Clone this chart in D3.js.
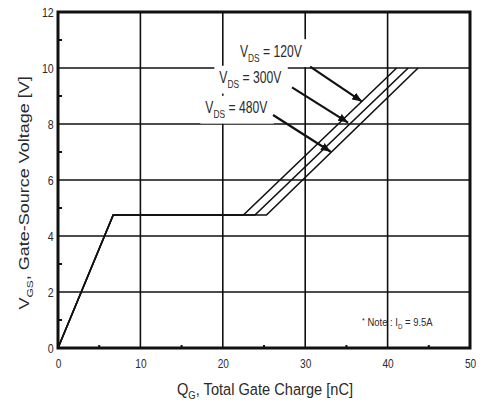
<!DOCTYPE html>
<html>
<head>
<meta charset="utf-8">
<script src="https://cdn.jsdelivr.net/npm/d3@7"></script>
<style>
  body { margin: 0; background: #fff; }
  text { font-family: Arial, "Liberation Sans", sans-serif; fill: #2a2a2a; }
</style>
</head>
<body>
<div id="chart"></div>
<script>
// data
const xTicks = [0, 10, 20, 30, 40, 50];
const yTicks = [0, 2, 4, 6, 8, 10, 12];
const xGrid = [10, 20, 30, 40];
const yGrid = [2, 4, 6, 8, 10];
const xMinor = [5, 15, 25, 35, 45];
const yMinor = [1, 3, 5, 7, 9, 11];

// gate charge curves (Qg in nC, Vgs in V)
const vgs = [0, 4.75, 4.75, 10];
const qg120 = [0, 6.7, 22.5, 41.1];
const qg300 = [0, 6.7, 23.9, 42.5];
const qg480 = [0, 6.7, 25.3, 43.7];

const vdsLabels = ["120V", "300V", "480V"];
const arrowFrom = [[30.6, 10.05], [28.4, 9.31], [26.1, 8.32]];
const arrowTo = [[36.9, 8.80], [35.2, 8.05], [33.1, 7.01]];
const labelAt = [[29.6, 10.4], [27.1, 9.45], [25.4, 8.38]];

const xSize = 482;
const ySize = 404;

const svg = d3.select("#chart").append("svg")
    .attr("width", xSize)
    .attr("height", ySize);

const x = d3.scaleLinear().domain([0, 50]).range([58, 470]);
const y = d3.scaleLinear().domain([0, 12]).range([348, 12]);

// grid
const grid = svg.append("g").attr("stroke", "#111").attr("stroke-width", 1.6);
grid.selectAll(".gx").data(xGrid).enter().append("line")
    .attr("x1", d => x(d)).attr("x2", d => x(d))
    .attr("y1", y(12)).attr("y2", y(0));
grid.selectAll(".gy").data(yGrid).enter().append("line")
    .attr("x1", x(0)).attr("x2", x(50))
    .attr("y1", d => y(d)).attr("y2", d => y(d));

// white boxes behind the labels, filled in later
const boxes = svg.append("g");

// minor ticks
const ticks = svg.append("g").attr("stroke", "#111").attr("stroke-width", 2);
ticks.selectAll(".mx").data(xMinor).enter().append("line")
    .attr("x1", d => x(d)).attr("x2", d => x(d))
    .attr("y1", y(0)).attr("y2", y(0) - 3);
ticks.selectAll(".my").data(yMinor).enter().append("line")
    .attr("x1", x(0)).attr("x2", x(0) + 4)
    .attr("y1", d => y(d)).attr("y2", d => y(d));

// curves
const line = d3.line().x(d => x(d[0])).y(d => y(d[1]));
const curves = [qg120, qg300, qg480].map(q => q.map((v, i) => [v, vgs[i]]));
svg.append("g").selectAll("path")
    .data(curves).enter()
    .append("path")
    .attr("d", line)
    .attr("fill", "none")
    .attr("stroke", "#111")
    .attr("stroke-width", 1.6)
    .attr("stroke-linejoin", "miter");

// arrows
svg.append("defs").append("marker")
    .attr("id", "arr")
    .attr("viewBox", "0 0 10 8")
    .attr("refX", 10).attr("refY", 4)
    .attr("markerWidth", 4.5).attr("markerHeight", 3.8)
    .attr("orient", "auto")
    .append("path")
    .attr("d", "M0,0 L10,4 L0,8 z")
    .attr("fill", "#111");

svg.append("g").selectAll("line")
    .data(arrowFrom).enter()
    .append("line")
    .attr("x1", d => x(d[0])).attr("y1", d => y(d[1]))
    .attr("x2", (d, i) => x(arrowTo[i][0])).attr("y2", (d, i) => y(arrowTo[i][1]))
    .attr("stroke", "#111")
    .attr("stroke-width", 2.2)
    .attr("marker-end", "url(#arr)");

// V_DS labels
const labels = svg.append("g");
vdsLabels.forEach((lab, i) => {
    const outer = labels.append("g");
    const inner = outer.append("g")
        .attr("transform", `translate(${x(labelAt[i][0])},${y(labelAt[i][1])}) scale(0.76,1)`);
    const t = inner.append("text")
        .attr("text-anchor", "end")
        .attr("font-size", 16);
    t.append("tspan").text("V");
    t.append("tspan").attr("font-size", 11).attr("dy", 5).text("DS");
    t.append("tspan").attr("dy", -5).text(" = " + lab);
    const bb = outer.node().getBBox();
    boxes.append("rect")
        .attr("x", bb.x - 5).attr("y", bb.y - 3)
        .attr("width", bb.width + 11).attr("height", bb.height + 6)
        .attr("fill", "#fff");
});

// note
const note = svg.append("g")
    .attr("transform", `translate(${x(36.9)},${y(0.8)}) scale(0.9,1)`)
    .append("text")
    .attr("font-size", 10.5);
note.append("tspan").attr("font-size", 8).attr("dy", -3).text("*");
note.append("tspan").attr("dy", 3).text(" Note : I");
note.append("tspan").attr("font-size", 7).attr("dy", 3).text("D");
note.append("tspan").attr("dy", -3).text(" = 9.5A");

// axes
const xAxis = svg.append("g")
    .attr("transform", `translate(0,${y(0)})`)
    .call(d3.axisBottom(x).tickValues(xTicks).tickSize(0).tickPadding(10));
xAxis.select(".domain").remove();
xAxis.selectAll("text")
    .attr("font-size", 13.5)
    .attr("fill", "#2a2a2a")
    .attr("transform", "scale(0.75,1)");

const yAxis = svg.append("g")
    .attr("transform", `translate(${x(0)},0)`)
    .call(d3.axisLeft(y).tickValues(yTicks).tickSize(0).tickPadding(5));
yAxis.select(".domain").remove();
yAxis.selectAll("text")
    .attr("font-size", 12.5)
    .attr("fill", "#2a2a2a")
    .attr("transform", "scale(0.85,1)");

// axis titles
const xt = svg.append("g").attr("transform", "translate(265,395) scale(0.86,1)")
    .append("text").attr("text-anchor", "middle").attr("font-size", 17);
xt.append("tspan").text("Q");
xt.append("tspan").attr("font-size", 11).attr("dy", 4).text("G");
xt.append("tspan").attr("dy", -4).text(", Total Gate Charge [nC]");

const yt = svg.append("g").attr("transform", "translate(29,193) rotate(-90) scale(1,0.78)")
    .append("text").attr("text-anchor", "middle").attr("font-size", 18);
yt.append("tspan").text("V");
yt.append("tspan").attr("font-size", 12).attr("dy", 5).text("GS");
yt.append("tspan").attr("dy", -5).text(", Gate-Source Voltage [V]");

// frame
svg.append("rect")
    .attr("x", x(0)).attr("y", y(12))
    .attr("width", x(50) - x(0)).attr("height", y(0) - y(12))
    .attr("fill", "none")
    .attr("stroke", "#111")
    .attr("stroke-width", 3);
</script>
</body>
</html>
